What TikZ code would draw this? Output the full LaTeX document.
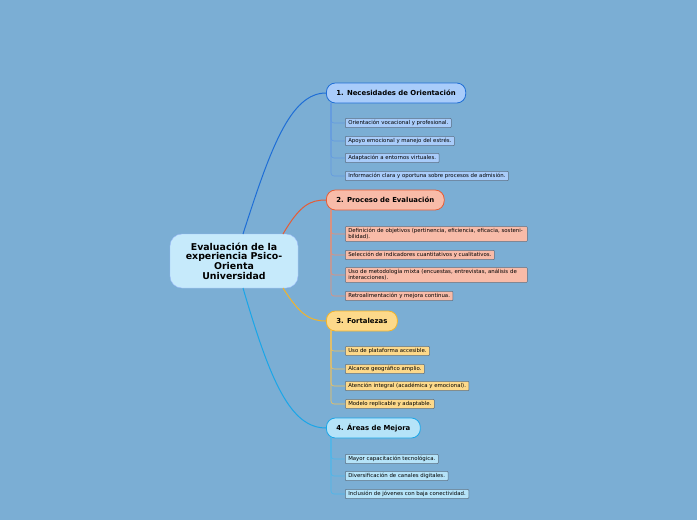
\documentclass[tikz,border=0pt]{standalone}
\usepackage{fontspec}
\setmainfont{DejaVu Sans}
\usetikzlibrary{positioning}
\definecolor{bg}{HTML}{7BAED4}
\definecolor{cfill}{HTML}{C6EAFB}
\definecolor{bfill}{HTML}{A9CCFA}\definecolor{bline}{HTML}{1F6ED6}
\definecolor{rfill}{HTML}{F8BBA8}\definecolor{rline}{HTML}{E65C35}
\definecolor{yfill}{HTML}{FDD98A}\definecolor{yline}{HTML}{F2B42A}
\definecolor{lfill}{HTML}{B5E3F8}\definecolor{lline}{HTML}{1AA6E8}
\definecolor{leafline}{HTML}{5A6E82}
\begin{document}
\begin{tikzpicture}[x=1pt,y=-1pt,
        center/.style = {fill=cfill,draw=cfill!80!blue,rounded corners=12pt,minimum width=128pt,minimum height=54pt,align=center,font=\fontsize{9.4}{9.6}\selectfont\bfseries,inner sep=2pt},
        topic/.style = {rounded corners=9pt,minimum height=20pt,inner xsep=10pt,anchor=west,font=\fontsize{6.9}{8}\selectfont\bfseries,line width=0.8pt},
        leaf/.style = {draw=leafline,rounded corners=1pt,anchor=west,font=\fontsize{5.4}{6.2}\selectfont,inner xsep=3pt,inner ysep=2pt,line width=0.5pt},
        wide/.style = {text width=176pt,align=left}
        ]
        \fill[bg] (0,0) rectangle (697,520);
        \node[center] (main) at (234,261) {Evaluación de la\\experiencia Psico-\\Orienta\\Universidad};
        % topics
        \node[topic,fill=bfill,draw=bline] (t1) at (326,93) {1. Necesidades de Orientación};
        \node[topic,fill=rfill,draw=rline] (t2) at (326,200) {2. Proceso de Evaluación};
        \node[topic,fill=yfill,draw=yline] (t3) at (326,321) {3. Fortalezas};
        \node[topic,fill=lfill,draw=lline] (t4) at (326,428) {4. Áreas de Mejora};
        \draw[bline,line width=1pt] (243,234) .. controls (270,150) and (290,93) .. (t1.west);
        \draw[rline,line width=1pt] (283,234) .. controls (300,205) and (310,200) .. (t2.west);
        \draw[yline,line width=1pt] (283,288) .. controls (300,315) and (310,321) .. (t3.west);
        \draw[lline,line width=1pt] (243,288) .. controls (270,380) and (290,428) .. (t4.west);
        % leaves
        \foreach \name/\y/\txt in {a1/123/Orientación vocacional y profesional.,a2/141/Apoyo emocional y manejo del estrés.,a3/158/Adaptación a entornos virtuales.,a4/176/Información clara y oportuna sobre procesos de admisión.}
            {\node[leaf,fill=bfill] (\name) at (345,\y) {\txt};
             \draw[bline!70,line width=0.6pt,rounded corners=3pt] (331,103) |- (\name.west);}
        \node[leaf,fill=rfill,wide] (b1) at (345,234) {Definición de objetivos (pertinencia, eficiencia, eficacia, sostenibilidad).};
        \node[leaf,fill=rfill] (b2) at (345,255) {Selección de indicadores cuantitativos y cualitativos.};
        \node[leaf,fill=rfill,wide] (b3) at (345,275) {Uso de metodología mixta (encuestas, entrevistas, análisis de interacciones).};
        \node[leaf,fill=rfill] (b4) at (345,296) {Retroalimentación y mejora continua.};
        \foreach \name in {b1,b2,b3,b4}
            \draw[rline!70,line width=0.6pt,rounded corners=3pt] (331,210) |- (\name.west);
        \foreach \name/\y/\txt in {c1/351/Uso de plataforma accesible.,c2/369/Alcance geográfico amplio.,c3/386/Atención integral (académica y emocional).,c4/404/Modelo replicable y adaptable.}
            {\node[leaf,fill=yfill] (\name) at (345,\y) {\txt};
             \draw[yline!80,line width=0.6pt,rounded corners=3pt] (331,330) |- (\name.west);}
        \foreach \name/\y/\txt in {d1/459/Mayor capacitación tecnológica.,d2/476/Diversificación de canales digitales.,d3/494/Inclusión de jóvenes con baja conectividad.}
            {\node[leaf,fill=lfill] (\name) at (345,\y) {\txt};
             \draw[lline!80,line width=0.6pt,rounded corners=3pt] (331,437) |- (\name.west);}
\end{tikzpicture}
\end{document}
